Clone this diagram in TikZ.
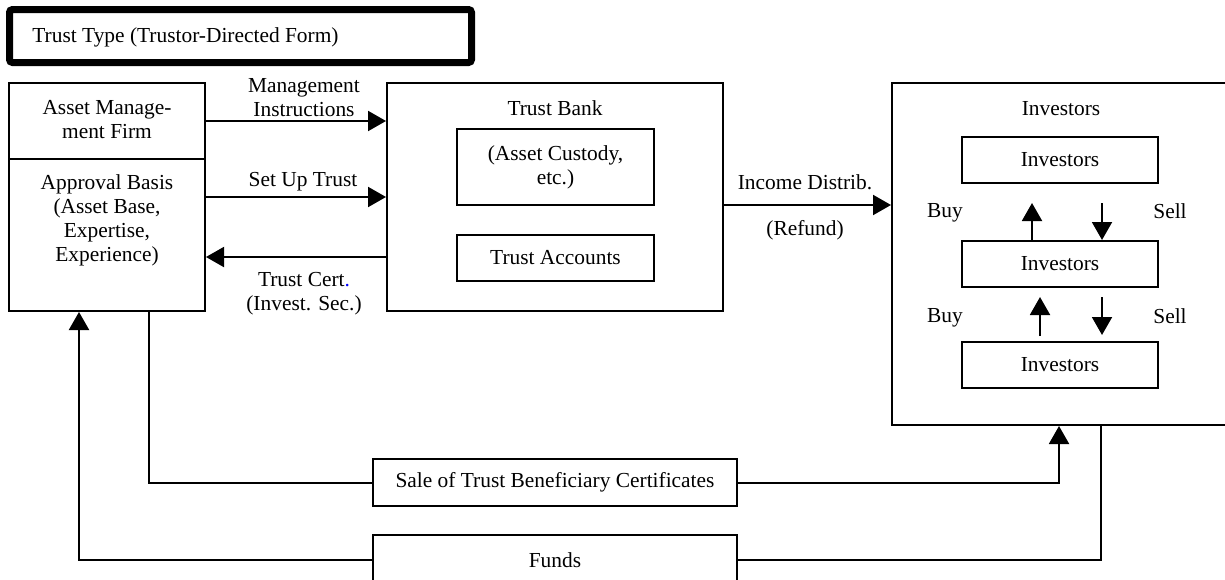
\documentclass[tikz,border=0pt]{standalone}
\usepackage{fontspec}
\setmainfont{Liberation Serif}
\usetikzlibrary{arrows.meta,calc}
\begin{document}
\begin{tikzpicture}[x=0.5pt,y=-0.5pt,
  font=\fontsize{10.7}{12}\selectfont,
  box/.style={draw,line width=1pt,inner sep=0pt},
  txt/.style={align=center,inner sep=0pt},
  arr/.style={line width=1pt,-{Triangle[length=9pt,width=10pt]}},
  ln/.style={line width=1pt}]
\useasboundingbox (0,0) rectangle (1225,579);

% title
\draw[line width=3.5pt,rounded corners=1.5pt] (9.5,9.5) rectangle (471.5,62.5);
\node[txt,anchor=west] (title) at (32,37) {Trust Type (Trustor-Directed Form)};

% left boxes
\node[box,minimum width=98pt,minimum height=38pt] (amf) at (107,121) {};
\node[box,minimum width=98pt,minimum height=76pt] (ab) at (107,235) {};
\node[txt] (amft) at (107,120) {Asset Manage-\\ment Firm};
\node[txt] (abt) at (107,220) {Approval Basis\\(Asset Base,\\Expertise,\\Experience)};

% trust bank
\node[box,minimum width=168pt,minimum height=114pt] (tb) at (555,197) {};
\node[txt] (tbt) at (555,108) {Trust Bank};
\node[box,minimum width=98.5pt,minimum height=38pt,txt] (cust) at (555.5,167) {(Asset Custody,\\etc.)};
\node[box,minimum width=98.5pt,minimum height=23pt,txt] (acc) at (555.5,258) {Trust Accounts};

% investors
\node[box,minimum width=174pt,minimum height=171pt] (inv) at (1066,254) {};
\node[txt] (invt) at (1061,109) {Investors};
\node[box,minimum width=98pt,minimum height=23pt] (i1) at (1060,160) {Investors};
\node[box,minimum width=98pt,minimum height=23pt] (i2) at (1060,264) {Investors};
\node[box,minimum width=98pt,minimum height=23pt] (i3) at (1060,364.5) {Investors};
\node[txt] (buy1) at (945,213) {Buy};
\node[txt] (sell1) at (1170,211) {Sell};
\node[txt] (buy2) at (945,318) {Buy};
\node[txt] (sell2) at (1170,316) {Sell};
\coordinate (b1) at (1032,203);
\coordinate (s1) at (1102,203);
\coordinate (b2s) at (1040,336);
\coordinate (b2e) at (1040,297);
\coordinate (s2s) at (1102,297);
\coordinate (s2e) at (1102,335);
\draw[arr] (i2.north -| b1) -- (b1);
\draw[arr] (s1) -- (i2.north -| s1);
\draw[arr] (b2s) -- (b2e);
\draw[arr] (s2s) -- (s2e);

% connectors top
\draw[arr] (amf.east) -- (amf.east -| tb.west);
\node[txt] (mi) at (304,98) {Management\\Instructions};
\coordinate (y197) at (0,197);
\coordinate (y257) at (0,257);
\draw[arr] (ab.east |- y197) -- (tb.west |- y197);
\node[txt] (sut) at (303,182) {Set Up Trust};
\draw[arr] (tb.west |- y257) -- (ab.east |- y257);
\node[txt] (tc) at (304,294) {Trust Cert{\color{blue}.}\\(Invest. Sec.)};
\coordinate (y205) at (0,205);
\draw[arr] (tb.east |- y205) -- (inv.west |- y205);
\node[txt] (id) at (805,182) {Income Distrib.};
\node[txt] (rf) at (805,230) {(Refund)};

% bottom
\node[box,minimum width=182pt,minimum height=23.5pt] (sale) at (555,482.5) {Sale of Trust Beneficiary Certificates};
\node[box,minimum width=182pt,minimum height=25pt] (funds) at (555,560) {Funds};
\coordinate (c1) at (149,0);
\coordinate (c2) at (1059,0);
\coordinate (c3) at (79,0);
\coordinate (c4) at (1101,0);
\draw[ln] (ab.south -| c1) |- (sale.west);
\draw[arr] (sale.east) -| (inv.south -| c2);
\draw[arr] (funds.west) -| (ab.south -| c3);
\draw[ln] (inv.south -| c4) |- (funds.east);
\end{tikzpicture}
\end{document}
